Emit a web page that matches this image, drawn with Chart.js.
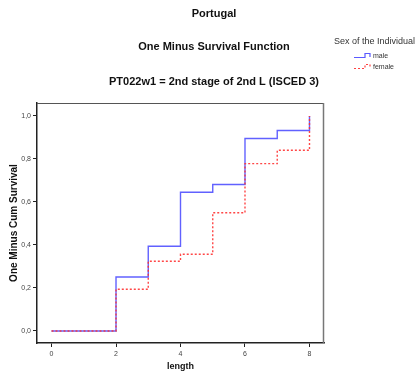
<!DOCTYPE html>
<html>
<head>
<meta charset="utf-8">
<script src="https://cdn.jsdelivr.net/npm/chart.js@4/dist/chart.umd.min.js"></script>
<style>
  html, body { margin: 0; padding: 0; background: #fff; }
  #wrap { width: 419px; height: 374px; position: relative; }
</style>
</head>
<body>
<div id="wrap"><canvas id="grafico" width="419" height="374"></canvas></div>
<script>
// dati
const lunghezza = [0, 2, 3, 4, 5, 6, 7, 8];
const maschi = [0, 0.251, 0.394, 0.645, 0.681, 0.895, 0.932, 1.0];
const femmine = [0, 0.194, 0.324, 0.357, 0.55, 0.778, 0.84, 1.0];
const tickX = [0, 2, 4, 6, 8];
const tickY = [0, 0.2, 0.4, 0.6, 0.8, 1.0];

const titoli = ["Portugal", "One Minus Survival Function", "PT022w1 = 2nd stage of 2nd L (ISCED 3)"];
const legendaTitolo = "Sex of the Individual";
const etichette = ["male", "female"];

const FONT = "'Liberation Sans', Arial, Helvetica, sans-serif";

function punti(vals) {
  return lunghezza.map((x, i) => ({ x: x, y: vals[i] }));
}

// titoli, cornice e legenda disegnati a mano
const decorazioni = {
  id: 'decorazioni',
  afterDraw(chart) {
    const c = chart.ctx;
    const a = chart.chartArea;
    c.save();
    // cornice
    c.lineWidth = 1;
    c.strokeStyle = '#555';
    c.beginPath();
    c.moveTo(a.left, a.top + 0.5);
    c.lineTo(a.right - 0.5, a.top + 0.5);
    c.stroke();
    c.strokeStyle = '#777';
    c.lineWidth = 1.5;
    c.beginPath();
    c.moveTo(a.right - 0.5, a.top);
    c.lineTo(a.right - 0.5, a.bottom);
    c.stroke();

    // titoli
    c.fillStyle = '#111';
    c.textAlign = 'center';
    c.textBaseline = 'middle';
    c.font = "bold 11px " + FONT;
    c.fillText(titoli[0], 214, 14);
    c.fillText(titoli[1], 214, 47);
    c.fillText(titoli[2], 214, 82);

    // legenda
    c.textAlign = 'left';
    c.fillStyle = '#333';
    c.font = "9px " + FONT;
    c.fillText(legendaTitolo, 334, 42);
    c.font = "7px " + FONT;
    c.fillText(etichette[0], 373, 56);
    c.fillText(etichette[1], 373, 67);

    c.lineWidth = 1.2;
    c.strokeStyle = '#5a5aff';
    c.beginPath();
    c.moveTo(354, 57.5); c.lineTo(365, 57.5); c.lineTo(365, 53.5); c.lineTo(370, 53.5); c.lineTo(370, 57);
    c.stroke();
    c.strokeStyle = '#ff4040';
    c.setLineDash([2, 2]);
    c.beginPath();
    c.moveTo(354, 68.5); c.lineTo(365, 68.5); c.lineTo(365, 64.5); c.lineTo(370, 64.5); c.lineTo(370, 68);
    c.stroke();
    c.restore();
  }
};

new Chart(document.getElementById('grafico'), {
  type: 'line',
  data: {
    datasets: [{
      label: etichette[0],
      data: punti(maschi),
      stepped: 'before',
      borderColor: 'rgba(80,80,255,0.9)',
      borderWidth: 1.4,
      pointRadius: 0,
      fill: false,
      order: 2
    }, {
      label: etichette[1],
      data: punti(femmine),
      stepped: 'before',
      borderColor: 'rgba(255,50,50,0.9)',
      borderWidth: 1.4,
      borderDash: [2, 2],
      pointRadius: 0,
      fill: false,
      order: 1
    }]
  },
  options: {
    responsive: false,
    animation: false,
    layout: { padding: { left: 0, right: 95, top: 103, bottom: 0 } },
    plugins: {
      legend: { display: false },
      tooltip: { enabled: false }
    },
    scales: {
      x: {
        type: 'linear',
        min: -0.45,
        max: 8.45,
        afterFit(s) { s.height = 31; },
        afterBuildTicks(s) { s.ticks = tickX.map(v => ({ value: v })); },
        grid: { drawOnChartArea: false, drawTicks: true, tickLength: 4, color: '#222', lineWidth: 1 },
        border: { color: '#222', width: 1.5 },
        ticks: {
          color: '#444',
          font: { family: FONT, size: 7 },
          padding: 3,
          maxRotation: 0,
          callback: v => String(v)
        },
        title: {
          display: true,
          text: 'length',
          color: '#111',
          font: { family: FONT, size: 9, weight: 'bold' },
          padding: { top: 0, bottom: 2 }
        }
      },
      y: {
        min: -0.056,
        max: 1.06,
        afterFit(s) { s.width = 37; },
        afterBuildTicks(s) { s.ticks = tickY.map(v => ({ value: v })); },
        grid: { drawOnChartArea: false, drawTicks: true, tickLength: 4, color: '#222', lineWidth: 1 },
        border: { color: '#222', width: 1.5 },
        ticks: {
          color: '#444',
          font: { family: FONT, size: 7 },
          padding: 2,
          callback: v => v.toFixed(1).replace('.', ',')
        },
        title: {
          display: true,
          text: 'One Minus Cum Survival',
          color: '#111',
          font: { family: FONT, size: 10, weight: 'bold' },
          padding: { top: 8, bottom: 0 }
        }
      }
    }
  },
  plugins: [decorazioni]
});
</script>
</body>
</html>
